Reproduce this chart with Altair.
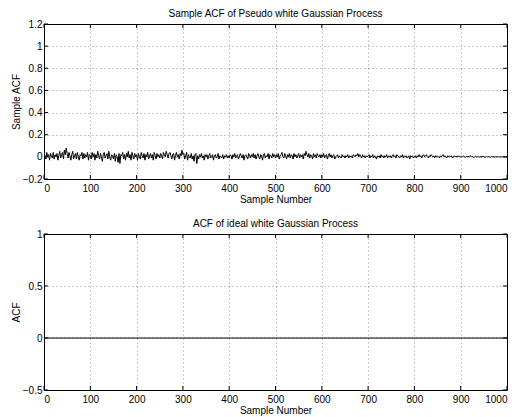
import altair as alt
import pandas as pd

# ---------------- data ----------------
acf_sample = [
    # 0-48
    0.03, 0.01, -0.02, 0.04, 0.00,
    0.02, -0.03, 0.03, 0.01, -0.01,
    0.04, -0.02, 0.02, 0.00, 0.03,
    -0.03, 0.01, 0.05, -0.01, 0.02,
    0.04, -0.02, 0.06, 0.02, 0.08,
    # 50-98
    0.03, -0.01, 0.04, 0.01, -0.03,
    0.02, 0.05, -0.02, 0.01, 0.03,
    -0.02, 0.04, 0.00, -0.03, 0.02,
    0.01, 0.04, -0.02, 0.03, -0.01,
    0.02, 0.00, 0.04, -0.03, 0.02,
    # 100-148
    0.01, -0.02, 0.04, 0.00, 0.03,
    -0.03, 0.02, -0.01, 0.05, 0.01,
    -0.02, 0.03, 0.00, -0.04, 0.02,
    0.04, -0.01, 0.01, 0.03, -0.02,
    0.05, 0.00, -0.03, 0.02, 0.01,
    # 150-198
    -0.02, 0.03, -0.04, 0.02, 0.00,
    -0.05, 0.03, -0.06, 0.02, 0.01,
    0.04, -0.02, 0.02, -0.03, 0.03,
    0.00, 0.05, -0.01, 0.02, -0.03,
    0.04, 0.01, -0.02, 0.03, 0.00,
    # 200-248
    0.02, -0.03, 0.03, 0.00, -0.02,
    0.04, 0.01, -0.01, 0.03, -0.03,
    0.02, 0.00, 0.04, -0.02, 0.01,
    0.03, -0.01, 0.02, -0.03, 0.04,
    0.01, -0.02, 0.03, 0.00, 0.02,
    # 250-298
    -0.01, 0.03, 0.01, -0.02, 0.04,
    0.02, 0.00, 0.05, 0.02, -0.01,
    0.03, 0.04, 0.01, -0.02, 0.02,
    0.03, -0.03, 0.01, 0.04, 0.00,
    0.02, -0.02, 0.03, 0.01, 0.06,
    # 300-348
    0.02, 0.03, -0.02, 0.01, 0.04,
    -0.03, 0.02, 0.00, -0.01, 0.03,
    -0.02, 0.01, -0.04, 0.02, 0.03,
    -0.06, 0.01, -0.02, 0.02, 0.00,
    0.03, -0.01, 0.01, -0.03, 0.02,
    # 350-398
    0.00, 0.02, -0.02, 0.01, 0.03,
    -0.01, 0.00, 0.02, -0.03, 0.01,
    0.02, -0.01, 0.00, 0.03, -0.02,
    0.01, 0.00, -0.01, 0.02, -0.02,
    0.01, 0.00, 0.02, -0.01, 0.01,
    # 400-448
    -0.01, 0.02, 0.01, -0.02, 0.02,
    0.00, 0.03, -0.01, 0.01, 0.02,
    -0.02, 0.00, 0.03, 0.01, -0.01,
    0.02, -0.03, 0.01, 0.02, 0.00,
    -0.02, 0.03, 0.01, -0.01, 0.02,
    # 450-498
    0.00, 0.03, -0.01, 0.02, -0.02,
    0.01, 0.03, 0.00, -0.02, 0.02,
    0.01, -0.03, 0.02, 0.03, -0.01,
    0.01, 0.00, 0.03, -0.02, 0.02,
    0.01, -0.01, 0.03, 0.00, 0.02,
    # 500-548
    -0.01, 0.02, 0.00, 0.03, -0.02,
    0.01, 0.02, 0.04, 0.00, -0.01,
    0.03, 0.01, -0.02, 0.02, 0.00,
    0.03, -0.01, 0.02, 0.01, -0.02,
    0.03, 0.00, 0.02, -0.01, 0.01,
    # 550-598
    0.03, -0.01, 0.02, 0.00, 0.02,
    -0.02, 0.03, 0.01, 0.05, 0.02,
    0.00, 0.03, -0.01, 0.02, 0.01,
    -0.02, 0.03, 0.00, 0.02, -0.01,
    0.03, 0.01, 0.00, 0.02, -0.01,
    # 600-648
    0.02, 0.00, 0.03, -0.01, 0.01,
    0.02, -0.02, 0.01, 0.03, 0.00,
    0.02, -0.01, 0.01, 0.02, -0.02,
    0.00, 0.01, 0.02, -0.01, 0.01,
    0.00, -0.01, 0.02, 0.00, 0.01,
    # 650-698
    -0.01, 0.01, 0.00, 0.02, -0.01,
    0.01, 0.00, 0.01, -0.01, 0.02,
    0.01, 0.00, 0.02, 0.01, 0.03,
    0.00, 0.02, 0.01, -0.01, 0.02,
    0.00, 0.01, -0.01, 0.01, 0.00,
    # 700-748
    0.01, 0.02, -0.01, 0.01, 0.00,
    0.02, -0.01, 0.01, 0.00, -0.02,
    0.01, 0.00, 0.01, -0.01, 0.02,
    0.00, 0.01, -0.01, 0.01, 0.00,
    0.02, -0.01, 0.01, 0.00, 0.01,
    # 750-798
    -0.01, 0.01, 0.02, 0.00, 0.01,
    -0.01, 0.02, 0.01, 0.00, -0.01,
    0.01, 0.00, 0.02, -0.01, 0.01,
    0.00, 0.01, -0.01, 0.00, 0.01,
    -0.02, 0.01, 0.00, 0.01, -0.01,
    # 800-848
    0.00, 0.01, -0.01, 0.01, 0.00,
    0.02, 0.00, 0.01, -0.01, 0.01,
    0.02, 0.00, 0.01, 0.02, 0.00,
    -0.01, 0.01, 0.00, 0.02, 0.01,
    0.00, 0.01, -0.01, 0.01, 0.00,
    # 850-898
    0.01, 0.00, -0.01, 0.01, 0.00,
    0.01, 0.02, 0.00, 0.01, 0.00,
    -0.01, 0.01, 0.00, 0.01, 0.00,
    0.01, -0.01, 0.00, 0.01, 0.00,
    0.005, 0.00, 0.01, 0.00, 0.005,
    # 900-948
    0.00, 0.005, 0.00, 0.01, 0.00,
    -0.005, 0.005, 0.00, 0.005, 0.00,
    0.01, 0.005, 0.00, 0.005, -0.005,
    0.00, 0.005, 0.00, 0.005, 0.00,
    -0.003, 0.003, 0.00, 0.004, 0.00,
    # 950-998
    0.002, 0.00, -0.003, 0.002, 0.00,
    0.003, 0.00, -0.002, 0.002, 0.00,
    0.002, 0.00, -0.002, 0.001, 0.00,
    0.002, 0.00, -0.001, 0.001, 0.00,
    0.001, 0.00, -0.001, 0.001, 0.00,
    # 1000
    0.00,
]
lags = list(range(0, 1001, 2))
ideal_lags = [0, 1, 1000]
ideal_acf = [1, 0, 0]

x_ticks = list(range(0, 1001, 100))
top_yticks = [-0.2, 0, 0.2, 0.4, 0.6, 0.8, 1.0, 1.2]
bot_yticks = [-0.5, 0, 0.5, 1]

top_title = "Sample ACF of Pseudo white Gaussian Process"
bot_title = "ACF of ideal white Gaussian Process"

FONT = "Liberation Sans"
W = 463
H1 = 155
H2 = 156
TICK = 4


def panel(df, yticks, ydomain, ytitle, title, H):
    xs = alt.Scale(domain=[0, 1000], nice=False, zero=False)
    ys = alt.Scale(domain=ydomain, nice=False, zero=False)
    xaxis = alt.Axis(values=x_ticks, title="Sample Number", format="d")
    yaxis = alt.Axis(values=yticks, title=ytitle, format="~g")
    line = alt.Chart(df).mark_line(color="black", strokeWidth=1, clip=True).encode(
        x=alt.X("lag:Q", scale=xs, axis=xaxis),
        y=alt.Y("acf:Q", scale=ys, axis=yaxis),
    )
    xt = pd.DataFrame({"lag": x_ticks})
    yt = pd.DataFrame({"acf": yticks})
    tb = alt.Chart(xt).mark_rule(color="black", strokeWidth=1).encode(
        x=alt.X("lag:Q", axis=xaxis), y=alt.value(H), y2=alt.value(H - TICK))
    tt = alt.Chart(xt).mark_rule(color="black", strokeWidth=1).encode(
        x=alt.X("lag:Q", axis=xaxis), y=alt.value(0), y2=alt.value(TICK))
    tl = alt.Chart(yt).mark_rule(color="black", strokeWidth=1).encode(
        y=alt.Y("acf:Q", axis=yaxis), x=alt.value(0), x2=alt.value(TICK))
    tr = alt.Chart(yt).mark_rule(color="black", strokeWidth=1).encode(
        y=alt.Y("acf:Q", axis=yaxis), x=alt.value(W - TICK), x2=alt.value(W))
    return alt.layer(line, tb, tt, tl, tr).properties(
        width=W, height=H,
        title=alt.TitleParams(title, fontSize=10, font=FONT, fontWeight="normal",
                              offset=0, color="black"),
    )


df_top = pd.DataFrame({"lag": lags, "acf": acf_sample})
df_bot = pd.DataFrame({"lag": ideal_lags, "acf": ideal_acf})

top = panel(df_top, top_yticks, [-0.2, 1.2], "Sample ACF", top_title, H1)
bot = panel(df_bot, bot_yticks, [-0.5, 1], "ACF", bot_title, H2)

chart = alt.vconcat(top, bot, spacing=13).properties(
    padding={"left": 2, "top": 0, "right": 0, "bottom": 0}
).configure_view(
    stroke="black", strokeWidth=1
).configure_axis(
    labelFont=FONT, titleFont=FONT, labelFontSize=10, titleFontSize=10,
    labelColor="black", titleColor="black", titleFontWeight="normal",
    domain=False, ticks=False,
    grid=True, gridColor="black", gridDash=[1, 3], gridOpacity=0.55, gridWidth=0.8,
).configure_axisY(
    titlePadding=1, labelPadding=2
).configure_axisX(
    titlePadding=1, labelPadding=4
)

chart.save("out.html", embed_options={"renderer": "svg", "actions": False})
